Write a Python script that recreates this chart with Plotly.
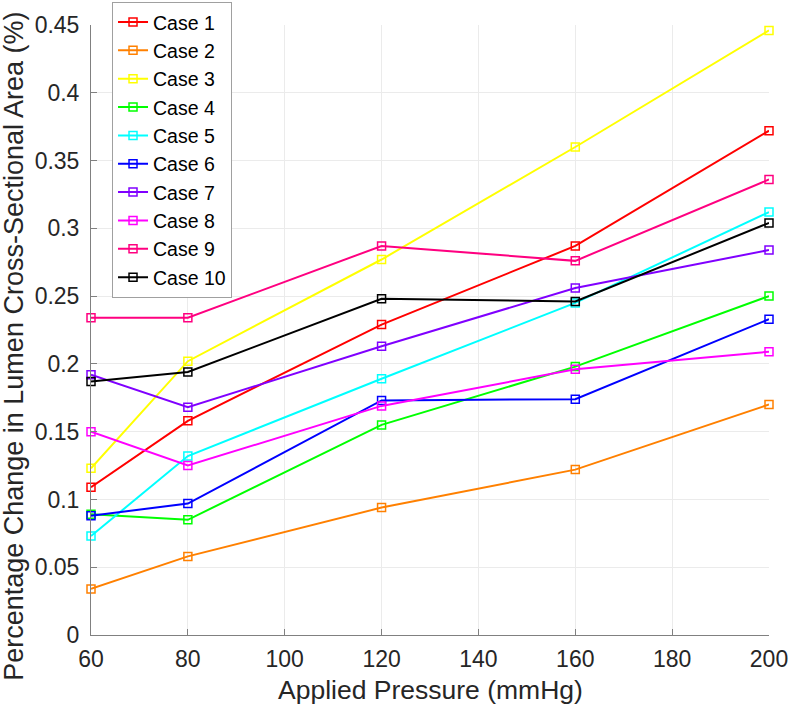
import plotly.graph_objects as go

pressure = [60, 80, 120, 160, 200]

case_names = ["Case 1", "Case 2", "Case 3", "Case 4", "Case 5",
              "Case 6", "Case 7", "Case 8", "Case 9", "Case 10"]

case1 = [0.109, 0.158, 0.229, 0.287, 0.372]
case2 = [0.034, 0.058, 0.094, 0.122, 0.170]
case3 = [0.123, 0.202, 0.277, 0.360, 0.446]
case4 = [0.089, 0.085, 0.155, 0.198, 0.250]
case5 = [0.073, 0.132, 0.189, 0.245, 0.312]
case6 = [0.088, 0.097, 0.173, 0.174, 0.233]
case7 = [0.192, 0.168, 0.213, 0.256, 0.284]
case8 = [0.150, 0.125, 0.169, 0.196, 0.209]
case9 = [0.234, 0.234, 0.287, 0.276, 0.336]
case10 = [0.187, 0.194, 0.248, 0.246, 0.304]

series = [case1, case2, case3, case4, case5, case6, case7, case8, case9, case10]

colors = ["#FF0000", "#FF8000", "#FFFF00", "#00FF00", "#00FFFF",
          "#0000FF", "#8000FF", "#FF00FF", "#FF0080", "#000000"]

x_ticks = [60, 80, 100, 120, 140, 160, 180, 200]
y_ticks = [0, 0.05, 0.1, 0.15, 0.2, 0.25, 0.3, 0.35, 0.4, 0.45]
y_tick_text = ["0", "0.05", "0.1", "0.15", "0.2", "0.25", "0.3", "0.35", "0.4", "0.45"]

x_title = "Applied Pressure (mmHg)"
y_title = "Percentage Change in Lumen Cross-Sectional Area (%)"

font_family = "Arial, Liberation Sans, sans-serif"
text_color = "#262626"

fig = go.Figure()
for name, vals, col in zip(case_names, series, colors):
    fig.add_trace(go.Scatter(
        x=pressure, y=vals, name=name, mode="lines+markers",
        line=dict(color=col, width=2),
        marker=dict(symbol="square-open", size=8, color=col, line=dict(width=1.5, color=col)),
        cliponaxis=False,
    ))

fig.update_layout(
    width=789, height=708,
    margin=dict(l=91, r=20, t=25, b=73, autoexpand=False),
    paper_bgcolor="white", plot_bgcolor="white",
    font=dict(family=font_family, color=text_color, size=20),
    legend=dict(
        x=0.031, y=1.038, xanchor="left", yanchor="top",
        bgcolor="white", bordercolor="#A0A0A0", borderwidth=1,
        font=dict(size=19.5, color="#000000"),
    ),
    showlegend=True,
)

fig.update_xaxes(
    range=[60, 200], tickvals=x_ticks, ticktext=[str(v) for v in x_ticks],
    showgrid=True, gridcolor="#EBEBEB", gridwidth=1,
    showline=True, linecolor="#808080", linewidth=1,
    ticks="inside", ticklen=6, tickcolor="#808080",
    zeroline=False, tickfont=dict(size=23, color=text_color, family=font_family),
    ticklabelstandoff=3, automargin=False,
)
fig.update_yaxes(
    range=[0, 0.45], tickvals=y_ticks, ticktext=y_tick_text,
    showgrid=True, gridcolor="#EBEBEB", gridwidth=1,
    showline=True, linecolor="#808080", linewidth=1,
    ticks="inside", ticklen=6, tickcolor="#808080",
    zeroline=False, tickfont=dict(size=23, color=text_color, family=font_family),
    ticklabelstandoff=6, automargin=False,
)

fig.add_annotation(
    text=x_title, xref="paper", yref="paper", x=0.5, y=-0.090,
    xanchor="center", yanchor="middle", showarrow=False,
    font=dict(size=26.5, color=text_color, family=font_family),
)
fig.add_annotation(
    text=y_title, xref="paper", yref="paper", x=-0.113, y=0.473,
    xanchor="center", yanchor="middle", showarrow=False, textangle=-90,
    font=dict(size=27, color=text_color, family=font_family),
)

fig.write_html("out.html", config={"displayModeBar": False},
               post_script="document.body.style.margin='0';")
